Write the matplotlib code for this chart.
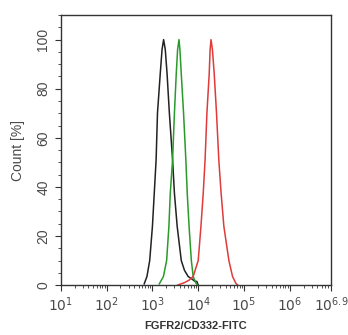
import matplotlib
matplotlib.use("Agg")
import matplotlib.pyplot as plt
import numpy as np
from matplotlib.ticker import FixedLocator, LogLocator, NullFormatter, MultipleLocator

plt.rcParams["font.family"] = ["Liberation Sans", "DejaVu Sans"]

# log10 intensity / percent count
black_logx = [2.82, 2.88, 2.94, 3.00, 3.04, 3.08, 3.11, 3.17, 3.21, 3.244, 3.28, 3.32, 3.37, 3.44, 3.48, 3.54, 3.63, 3.70, 3.78, 3.86, 3.93, 3.97, 4.00]
black_y = [0.5, 3.5, 10, 24, 37.5, 51, 70, 86, 96, 100, 96, 86, 70, 51, 37.5, 24, 10, 6, 3.5, 2.5, 1.5, 1.5, 0]
green_logx = [3.15, 3.24, 3.31, 3.36, 3.39, 3.44, 3.48, 3.52, 3.55, 3.58, 3.60, 3.63, 3.68, 3.73, 3.76, 3.80, 3.85, 3.89, 3.95, 3.99]
green_y = [0.5, 3.5, 10, 24, 37.5, 51, 70, 86, 96, 100, 96, 86, 70, 51, 37.5, 24, 10, 3.5, 0.8, 0]
red_logx = [3.55, 3.70, 3.80, 3.89, 4.00, 4.06, 4.11, 4.15, 4.19, 4.24, 4.26, 4.28, 4.31, 4.35, 4.40, 4.45, 4.50, 4.56, 4.67, 4.75, 4.82, 4.86]
red_y = [0, 1, 2, 3.5, 10, 24, 37.5, 51, 70, 86, 96, 100, 96, 86, 70, 51, 37.5, 24, 10, 3.5, 0.8, 0]
xtick_exps = [1, 2, 3, 4, 5, 6, 6.9]
ytick_vals = [0, 20, 40, 60, 80, 100]

fig = plt.figure(figsize=(3.48, 3.35), dpi=100)
ax = fig.add_axes([0.175, 0.149, 0.776, 0.806])

for lx, y, c in [(black_logx, black_y, "#222222"), (green_logx, green_y, "#2a9a2a"), (red_logx, red_y, "#e03a3a")]:
    ax.plot(10 ** np.array(lx), y, color=c, lw=1.1)

ax.set_xscale("log")
ax.set_xlim(10, 10 ** 6.9)
ax.set_ylim(0, 110)

ax.xaxis.set_major_locator(FixedLocator([10 ** e for e in xtick_exps]))
ax.set_xticklabels([f"$10^{{{e:g}}}$" for e in xtick_exps])
ax.xaxis.set_minor_locator(LogLocator(base=10, subs=np.arange(2, 10)))
ax.xaxis.set_minor_formatter(NullFormatter())
ax.set_yticks(ytick_vals)
ax.yaxis.set_minor_locator(MultipleLocator(5))
plt.setp(ax.get_yticklabels(), rotation=90, va="center")

gray = "#4a4a4a"
ax.tick_params(which="both", direction="out", colors="#333333", labelcolor=gray, labelsize=10)
ax.tick_params(which="major", length=4)
ax.tick_params(which="minor", length=2)
for s in ax.spines.values():
    s.set_color("#333333")
    s.set_linewidth(1.0)

ax.set_ylabel("Count [%]", color=gray, fontsize=10, labelpad=8)
ax.set_xlabel("FGFR2/CD332-FITC", fontsize=8, fontweight="bold", color="#333333", labelpad=5)

fig.savefig("out.png", dpi=100)
